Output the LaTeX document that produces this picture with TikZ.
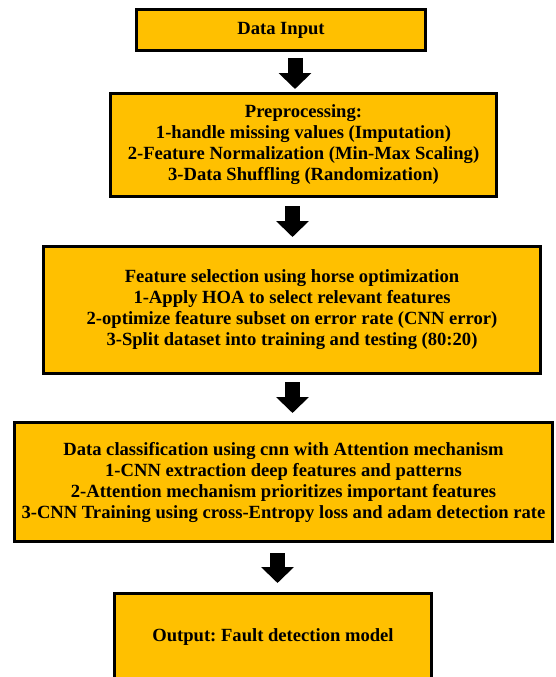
\documentclass[tikz,border=0pt]{standalone}
\usepackage{fontspec}
\setmainfont{Liberation Serif}
\frenchspacing
\usetikzlibrary{arrows.meta}
\definecolor{stepgold}{RGB}{255,192,0}
\tikzset{
  stage/.style={rectangle,draw=black,fill=stepgold,line width=3pt,
    font=\fontsize{18.6}{21}\selectfont\bfseries,align=center,inner sep=2pt},
  bigarrow/.style={draw=black,line width=15pt,
    -{Triangle[length=16pt,width=32pt]}}
}

\begin{document}
\begin{tikzpicture}[x=1pt,y=-1pt]
  \useasboundingbox (0,0) rectangle (555,677);
  % Five stages of the pipeline, top to bottom.
  \node[stage,minimum width=289pt,minimum height=41pt] (input) at (281,30) {Data Input};
  \node[stage,minimum width=386pt,minimum height=103pt] (prep) at (303.5,145)
    {Preprocessing:\\1-handle missing values (Imputation)\\2-Feature Normalization (Min-Max Scaling)\\3-Data Shuffling (Randomization)};
  \node[stage,minimum width=497pt,minimum height=127pt] (select) at (292,310)
    {Feature selection using horse optimization\\1-Apply HOA to select relevant features\\2-optimize feature subset on error rate (CNN error)\\3-Split dataset into training and testing (80:20)};
  \node[stage,minimum width=538pt,minimum height=119pt] (classify) at (283.5,482)
    {Data classification using cnn with Attention mechanism\\1-CNN extraction deep features and patterns\\2-Attention mechanism prioritizes important features\\3-CNN Training using cross-Entropy loss and adam detection rate};
  \node[stage,minimum width=317pt,minimum height=87pt] (output) at (273,637) {Output: Fault detection model};

  \draw[bigarrow] ([xshift=14pt,yshift=-6pt]input.south) -- ([xshift=-8.5pt,yshift=3pt]prep.north);
  \draw[bigarrow] ([xshift=-11pt,yshift=-8pt]prep.south) -- ([xshift=0.5pt,yshift=8pt]select.north);
  \draw[bigarrow] ([xshift=0.5pt,yshift=-7pt]select.south) -- ([xshift=9pt,yshift=8pt]classify.north);
  \draw[bigarrow] ([xshift=-6pt,yshift=-10pt]classify.south) -- ([xshift=4.5pt,yshift=9pt]output.north);
\end{tikzpicture}
\end{document}
